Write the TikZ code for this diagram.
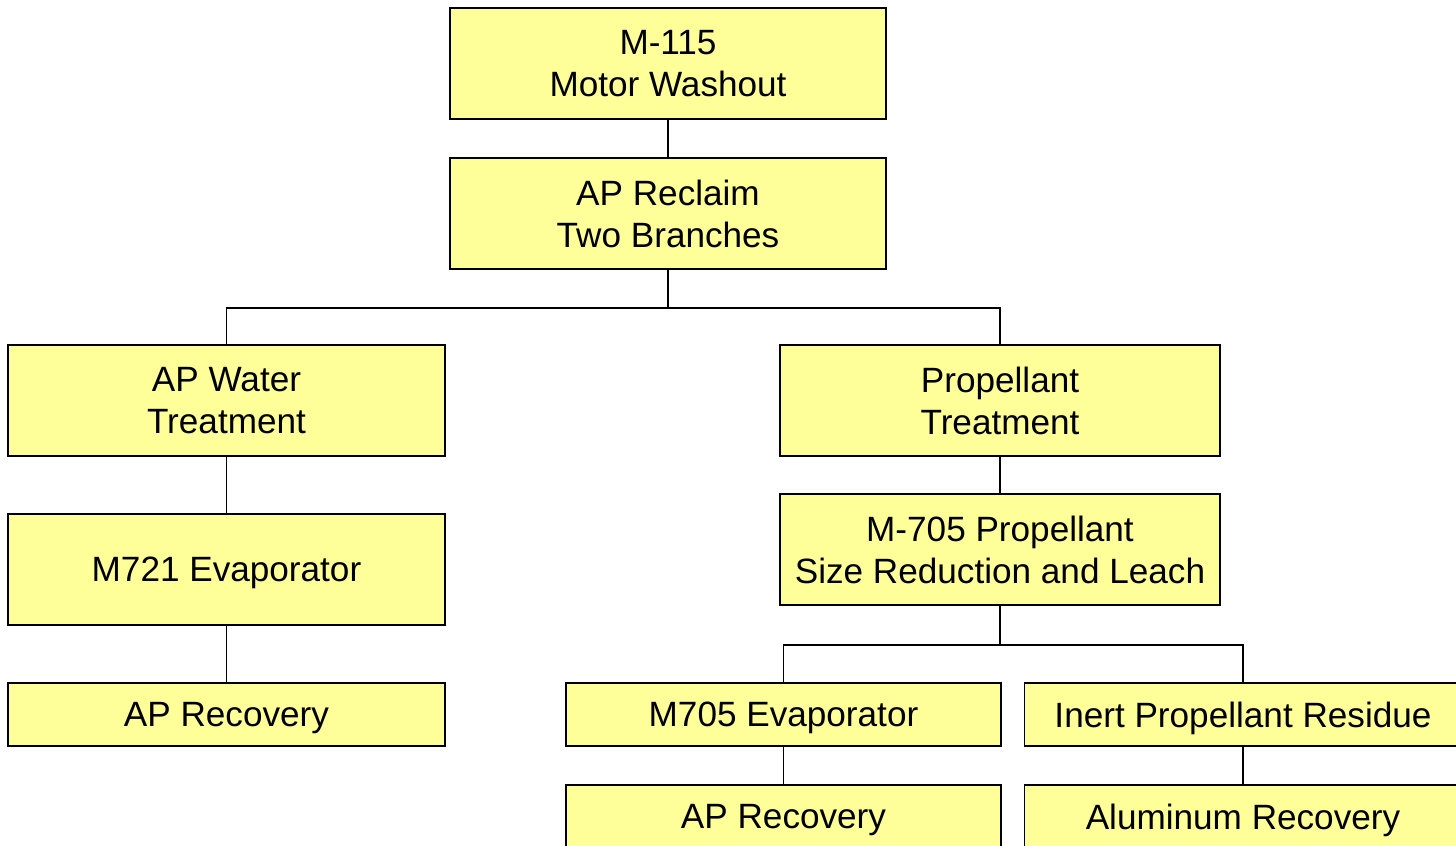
\documentclass[tikz,border=0pt]{standalone}
\usepackage{fontspec}
\setmainfont{Liberation Sans}
\usepackage{tikz}
\usetikzlibrary{shapes,calc,positioning}
\definecolor{boxyellow}{HTML}{FFFF99}
\tikzset{
    line width=0.55pt,
    box/.style ={rectangle, draw, fill=boxyellow, align=center, font=\fontsize{10}{12}\selectfont, text depth=0pt, minimum width=4.37cm, minimum height=1.11cm, inner sep=0pt},
    flat/.style = {box, minimum height=0.63cm},
    link/.style = {draw, line width=0.55pt},
}
\begin{document}
\begin{tikzpicture}
    \useasboundingbox (0,0) rectangle (14.56,-8.45);
    \clip (0,0) rectangle (14.56,-8.45);
    % top of the tree
    \node (washout) at (6.68,-0.635) [box, minimum width=4.36cm] {M-115\\Motor Washout};
    \node (reclaim) at (6.68,-2.135) [box, minimum width=4.36cm] {AP Reclaim\\Two Branches};
    % left branch
    \node (water) at (2.265,-4.005) [box] {AP Water\\Treatment};
    \node (evapl) at (2.265,-5.695) [box] {M721 Evaporator};
    \node (recl) at (2.265,-7.145) [flat] {AP Recovery};
    % right branch
    \node (prop) at (10.0,-4.005) [box, minimum width=4.40cm] {Propellant\\Treatment};
    \node (leach) at (10.0,-5.495) [box, minimum width=4.40cm] {M-705 Propellant\\Size Reduction and Leach};
    \node (evapr) at (7.835,-7.145) [flat, minimum width=4.35cm] {M705 Evaporator};
    \node (inert) at (12.43,-7.145) [flat] {Inert Propellant Residue};
    \node (recr) at (7.835,-8.165) [flat, minimum width=4.35cm] {AP Recovery};
    \node (alu) at (12.43,-8.165) [flat] {Aluminum Recovery};

    % connectors
    \draw[link] (washout) -- (reclaim);
    \draw[link] (reclaim.south) -- ++(0,-0.38) -| (water.north);
    \draw[link] (reclaim.south) -- ++(0,-0.38) -| (prop.north);
    \draw[link] (water) -- (evapl);
    \draw[link] (evapl) -- (recl);
    \draw[link] (prop) -- (leach);
    \draw[link] (leach.south) -- ++(0,-0.39) -| (evapr.north);
    \draw[link] (leach.south) -- ++(0,-0.39) -| (inert.north);
    \draw[link] (evapr) -- (recr);
    \draw[link] (inert) -- (alu);

\end{tikzpicture}
\end{document}
